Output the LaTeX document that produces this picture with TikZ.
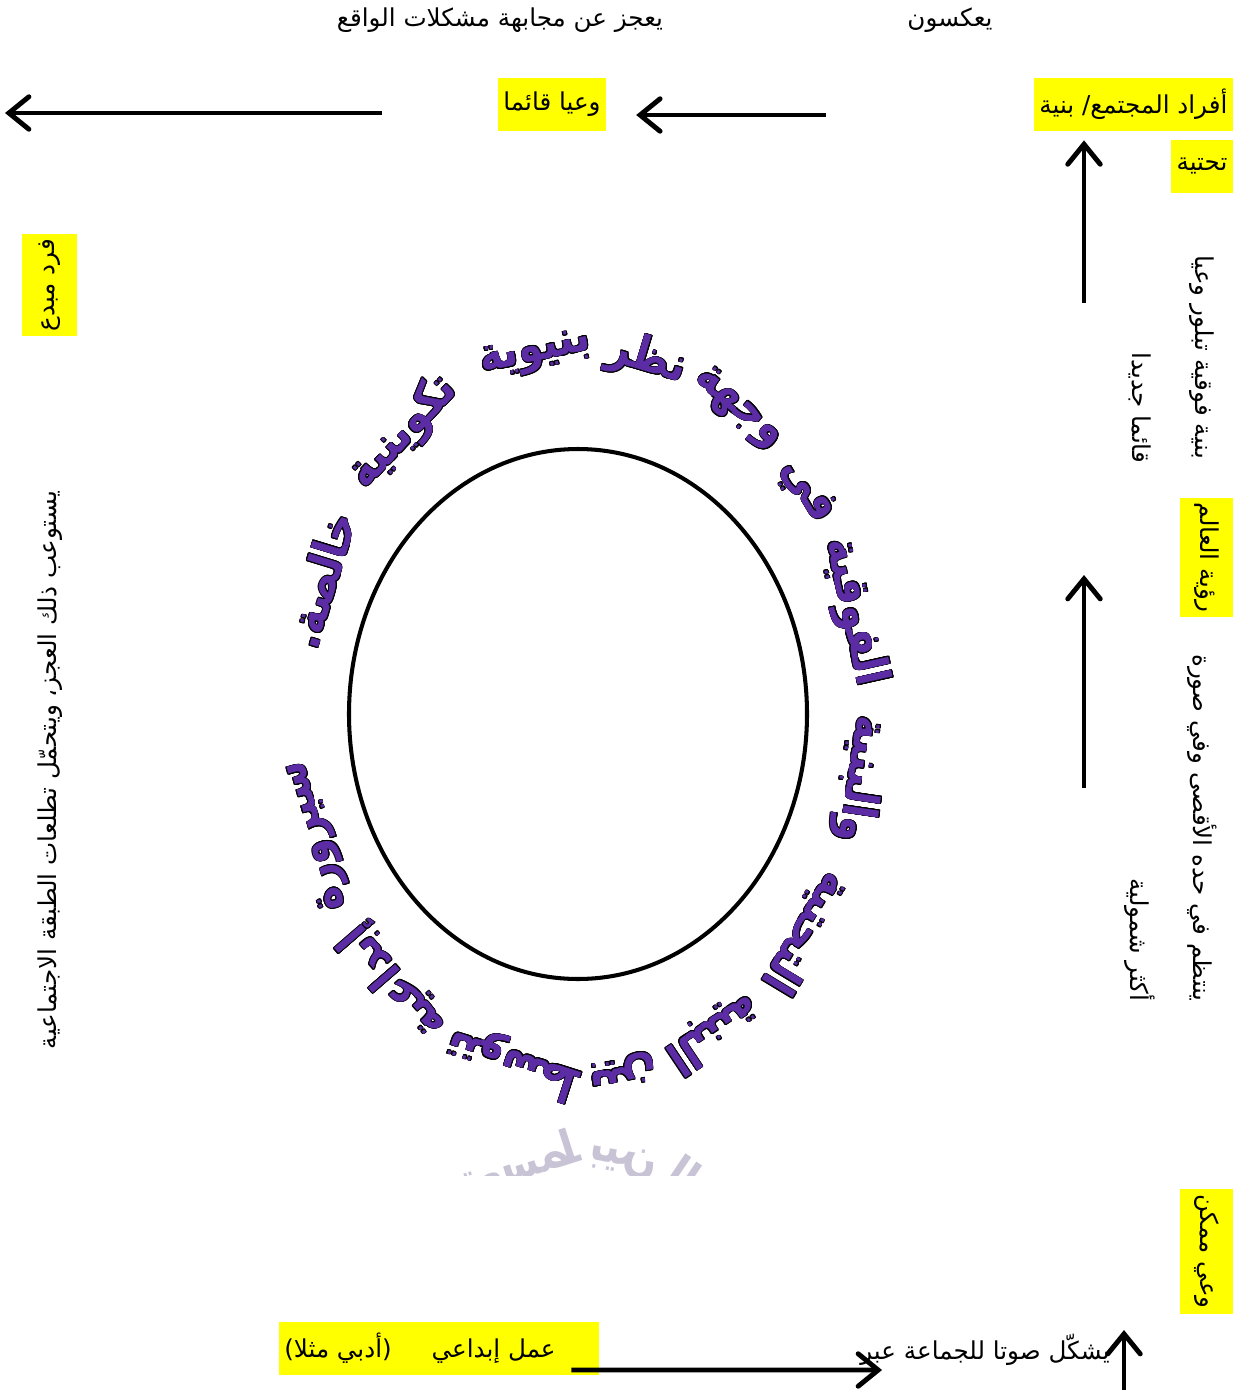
\documentclass[tikz,border=0pt]{standalone}
\usepackage{fontspec}
\usepackage{contour}
\usetikzlibrary{arrows.meta, positioning, calc}
\TeXXeTstate=1
\newfontfamily\arabicfont[Script=Arabic]{DejaVu Sans}
\newfontfamily\ringfont[Script=Arabic, FakeStretch=0.85]{DejaVu Sans}
\definecolor{hlyellow}{HTML}{FFFF00}
\definecolor{wapurple}{HTML}{5B2CA3}
\definecolor{refgray}{HTML}{C9C3D6}
\contourlength{0.4pt}

% words on the ring, with their angle
\newcommand{\ringwords}{سيرورة/199.9, إبداعية/228, تتوسط/256, بين/278,
  البنية/297.5, التحتية/322.3, والبنية/349.3, الفوقية/16, في/37.5,
  وجهة/56.7, نظر/76.8, بنيوية/99.6, تكوينية/129.5, خالصة./158.6}

\begin{document}
\begin{tikzpicture}[
  >={Straight Barb[length=4mm, width=6.5mm, line cap=round]},
  lbl/.style={font=\arabicfont\fontsize{14}{16}\selectfont, inner sep=0pt},
  hl/.style={lbl, fill=hlyellow, inner sep=3pt, minimum height=10.6mm},
  arr/.style={->, line width=2.8pt, black},
  ringword/.style={font=\ringfont\bfseries\fontsize{27}{29}\selectfont,
    text=wapurple, inner sep=0pt},
]

\useasboundingbox (0,0) rectangle (24.8,-27.88);

% =============================================
% Top row
% =============================================
\node[lbl] (fail) at (10.0,-0.4) {\beginR يعجز عن مجابهة مشكلات الواقع\endR};
\node[lbl] (mirror) at (19.0,-0.4) {\beginR يعكسون\endR};

\node[hl, minimum width=19.2mm] (wq) at (11.04,-2.09) {\beginR وعيا قائما\endR};
\node[hl, anchor=east, minimum width=37mm] (ind) at (24.66,-2.09)
  {\beginR أفراد المجتمع/ بنية\endR};
\node[hl, anchor=east] (ind2) at (24.66,-3.32) {\beginR تحتية\endR};

\coordinate (lend) at (0.1,-2.26);
\draw[arr, shorten <=2.32cm] ([yshift=-0.17cm]wq.west) -- (lend);
\draw[arr, shorten <=4.16cm, shorten >=0.6cm]
  ([yshift=-0.21cm]ind.west) -- ([yshift=-0.21cm]wq.east);

% =============================================
% Right column
% =============================================
\node[lbl, rotate=-90] (sup) at (24.04,-7.14) {\beginR بنية فوقية تبلور وعيا\endR};
\node[lbl, rotate=-90] (newc) at (22.8,-8.16) {\beginR قائما جديدا\endR};
\node[hl, rotate=-90, minimum width=21mm] (wv) at (24.13,-11.15) {\beginR رؤية العالم\endR};
\node[lbl, rotate=-90] (org) at (24.04,-16.56)
  {\beginR ينتظم في حده الأقصى وفي صورة\endR};
\node[lbl, rotate=-90] (comp) at (22.8,-18.8) {\beginR أكثر شمولية\endR};
\node[hl, rotate=-90, minimum width=21.4mm] (pc) at (24.13,-25.03) {\beginR وعي ممكن\endR};

\coordinate (r1) at (21.68,-6.06);
\draw[arr, shorten >=0.18cm] (r1) -- (r1 |- ind.south);
\coordinate (r2) at (21.68,-15.76);
\coordinate (r2t) at (21.68,-11.5);
\draw[arr] (r2) -- (r2t);

% =============================================
% Bottom row
% =============================================
\node[lbl] (voice) at (19.7,-27.0) {\beginR يشكّل صوتا للجماعة عبر\endR};
\node[hl, minimum width=63.6mm] (work) at (8.78,-26.97)
  {\beginR\hspace{7.6mm}عمل إبداعي\hspace{8mm}(أدبي مثلا)\endR};

\coordinate (v0) at (22.48,-27.8);
\coordinate (v1) at (22.48,-26.6);
\draw[arr] (v0) -- (v1);
\draw[arr, shorten >=-0.44cm]
  ([xshift=-0.56cm, yshift=-0.43cm]work.east) -- ([yshift=-0.4cm]voice.west);

% =============================================
% Left column
% =============================================
\node[hl, rotate=90, minimum width=18mm, minimum height=11mm] (fm) at (0.99,-5.7)
  {\beginR فرد مبدع\endR};
\node[lbl, rotate=90] (absorb) at (1.0,-15.4)
  {\beginR يستوعب ذلك العجز، ويتحمّل تطلعات الطبقة الاجتماعية\endR};

% =============================================
% Circle and ring text
% =============================================
\draw[line width=2.3pt] (11.56,-14.28) ellipse (4.58 and 5.3);

\begin{scope}[shift={(11.66,-14.24)}]
  \foreach \w/\t in \ringwords {
    \pgfmathsetmacro\rot{atan2(5.64*sin(\t),7.24*cos(\t))-90}
    \node[ringword, rotate=\rot] at (\t:5.64 and 7.24)
      {\contour{black}{\beginR\w\endR}};
  }
\end{scope}

% reflection under the ring
\begin{scope}
  \clip (8.6,-22.4) rectangle (14.4,-23.5);
  \begin{scope}[yshift=-44.64cm, yscale=-1, shift={(11.66,-14.24)}]
    \foreach \w/\t in {إبداعية/228, تتوسط/256, بين/278, البنية/297.5} {
      \pgfmathsetmacro\rot{atan2(5.64*sin(\t),7.24*cos(\t))-90}
      \node[ringword, text=refgray, rotate=\rot, transform shape]
        at (\t:5.64 and 7.24) {\beginR\w\endR};
    }
  \end{scope}
\end{scope}

\end{tikzpicture}
\end{document}
